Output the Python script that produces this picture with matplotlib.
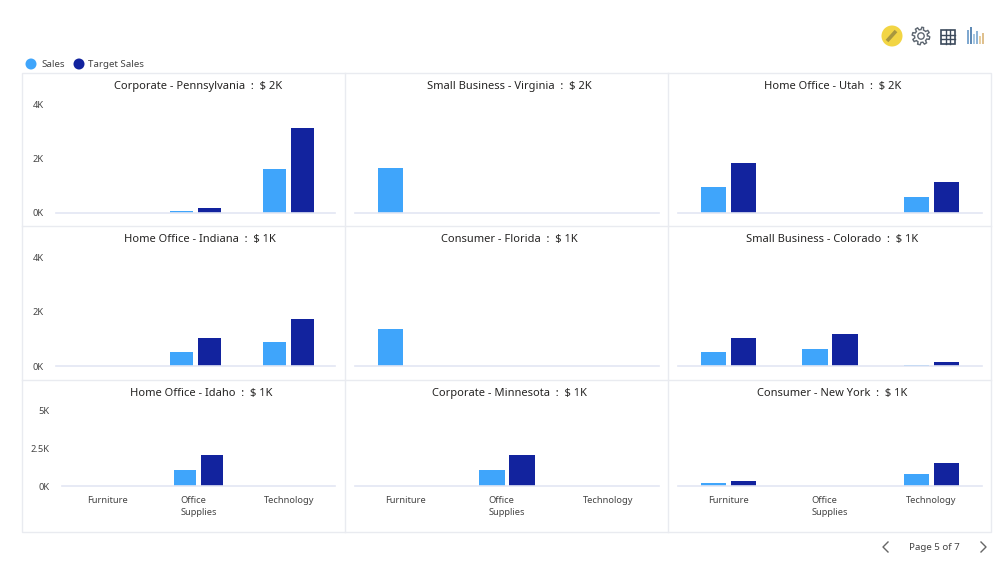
#!/usr/bin/env python3

import matplotlib
matplotlib.use('Agg')
import matplotlib.pyplot as plt
import numpy as np
from matplotlib.patches import Circle, Polygon, Rectangle

plt.rcParams['font.family'] = ['Noto Sans', 'DejaVu Sans']

# ---------------- DATA ----------------
categories = ['Furniture', 'Office\nSupplies', 'Technology']

titles = [
    'Corporate - Pennsylvania  :  $ 2K',
    'Small Business - Virginia  :  $ 2K',
    'Home Office - Utah  :  $ 2K',
    'Home Office - Indiana  :  $ 1K',
    'Consumer - Florida  :  $ 1K',
    'Small Business - Colorado  :  $ 1K',
    'Home Office - Idaho  :  $ 1K',
    'Corporate - Minnesota  :  $ 1K',
    'Consumer - New York  :  $ 1K',
]

sales = [
    [0, 60, 1620],
    [1660, 0, 0],
    [950, 0, 590],
    [0, 520, 880],
    [1360, 0, 0],
    [520, 620, 50],
    [0, 1050, 0],
    [0, 1050, 0],
    [170, 0, 780],
]

target_sales = [
    [0, 170, 3120],
    [0, 0, 0],
    [1840, 0, 1140],
    [0, 1040, 1730],
    [0, 0, 0],
    [1010, 1180, 130],
    [0, 2030, 0],
    [0, 2030, 0],
    [340, 0, 1500],
]

y_ticks = [
    [0, 2000, 4000],
    [0, 2000, 4000],
    [0, 2500, 5000],
]
y_tick_labels = [
    ['0K', '2K', '4K'],
    ['0K', '2K', '4K'],
    ['0K', '2.5K', '5K'],
]

SALES_COLOR = '#3fa5fb'
TARGET_COLOR = '#12239e'
GRID_COLOR = '#e9ebf0'
BASE_COLOR = '#e3e6f3'
TEXT_COLOR = '#444444'

W, H = 1000, 580

fig = plt.figure(figsize=(W / 100, H / 100), dpi=100, facecolor='white')


def px_axes(left, top, right, bottom):
    return fig.add_axes([left / W, 1 - bottom / H, (right - left) / W, (bottom - top) / H])


# overlay in pixel coordinates for panel frame, legend and toolbar icons
overlay = fig.add_axes([0, 0, 1, 1], zorder=0)
overlay.set_xlim(0, W)
overlay.set_ylim(H, 0)
overlay.axis('off')

# ---------------- PANEL FRAME ----------------
overlay.add_patch(Rectangle((22, 73), 969, 459, fill=False, edgecolor=GRID_COLOR, linewidth=1))
for x in [345, 668]:
    overlay.plot([x, x], [73, 532], color=GRID_COLOR, linewidth=1)
for y in [226, 380]:
    overlay.plot([22, 991], [y, y], color=GRID_COLOR, linewidth=1)

# ---------------- SMALL MULTIPLES ----------------
col_axis = [(56, 335), (355, 659), (678, 982)]
row_axis = [(104, 213), (257, 366), (410, 486)]
row_title = [86.5, 239.5, 393.5]
title_center = [
    198.5, 509.5, 832.5,
    199.5, 509.5, 832.5,
    201.5, 509, 832.5,
]

x = np.arange(len(categories))
offset = 0.148
width = 0.25

for i, title in enumerate(titles):
    row, col = divmod(i, 3)
    left, right = col_axis[col]
    if row == 2 and col == 0:
        left = 62
    top, bottom = row_axis[row]

    ax = px_axes(left, top, right, bottom)
    ax.patch.set_alpha(0)
    ax.bar(x - offset, sales[i], width, color=SALES_COLOR)
    ax.bar(x + offset, target_sales[i], width, color=TARGET_COLOR)

    ax.set_xlim(-0.5, 2.5)
    ax.set_ylim(0, y_ticks[row][-1])

    for side in ['top', 'left', 'right']:
        ax.spines[side].set_visible(False)
    ax.spines['bottom'].set_color(BASE_COLOR)
    ax.spines['bottom'].set_linewidth(1.2)

    ax.tick_params(length=0, labelsize=6.7, labelcolor=TEXT_COLOR)

    ax.set_yticks(y_ticks[row])
    ax.set_yticklabels(y_tick_labels[row] if col == 0 else [])
    ax.tick_params(axis='y', pad=9)

    if row == 2:
        ax.set_xticks(x)
        ax.set_xticklabels(categories, multialignment='left', linespacing=1.5)
        ax.tick_params(axis='x', pad=7)
    else:
        ax.set_xticks([])

    overlay.text(
        title_center[i], row_title[row], title,
        ha='center', va='center', fontsize=8.0, color='#252423'
    )

# ---------------- LEGEND ----------------
overlay.add_patch(Circle((31, 64), 5.5, color=SALES_COLOR, linewidth=0))
overlay.text(41, 64.7, 'Sales', va='center', fontsize=7.0, color=TEXT_COLOR)
overlay.add_patch(Circle((79, 64), 5.5, color=TARGET_COLOR, linewidth=0))
overlay.text(88, 64.7, 'Target Sales', va='center', fontsize=7.0, color=TEXT_COLOR)

# ---------------- TOOLBAR ICONS ----------------
overlay.add_patch(Circle((892, 36), 10.5, color='#f2d544', linewidth=0))
overlay.plot([887, 896], [41, 31], color='#a8973f', linewidth=2.6, solid_capstyle='butt')

angles = np.linspace(0, 2 * np.pi, 65)
teeth = 7.6 + 1.2 * np.sign(np.sin(angles * 8))
overlay.add_patch(Polygon(
    np.column_stack([921 + teeth * np.cos(angles), 36 + teeth * np.sin(angles)]),
    fill=False, edgecolor='#5f6872', linewidth=1
))
overlay.add_patch(Circle((921, 36), 3.2, fill=False, edgecolor='#5f6872', linewidth=1))

overlay.add_patch(Rectangle((941, 30), 13.5, 14, fill=False, edgecolor='#3c4a5c', linewidth=1.2))
for gx in [945.5, 950]:
    overlay.plot([gx, gx], [30, 44], color='#3c4a5c', linewidth=1)
for gy in [34.6, 39.3]:
    overlay.plot([941, 954.5], [gy, gy], color='#3c4a5c', linewidth=1)

icon_colors = ['#7fa8d0', '#5f8ab5', '#a9c8e2', '#8fb4d6', '#e8cfa2', '#dfc08e']
icon_tops = [30, 27, 34, 31, 36, 33]
for n, (c, t) in enumerate(zip(icon_colors, icon_tops)):
    overlay.add_patch(Rectangle((967 + n * 2.9, t), 2.4, 44 - t, color=c, linewidth=0))

# ---------------- PAGER ----------------
overlay.plot([888, 883, 888], [542, 547, 552], color='#666666', linewidth=1)
overlay.plot([981, 986, 981], [542, 547, 552], color='#666666', linewidth=1)
overlay.text(934.5, 548, 'Page 5 of 7', ha='center', va='center', fontsize=7.0, color=TEXT_COLOR)

fig.savefig('out.png', dpi=100)
